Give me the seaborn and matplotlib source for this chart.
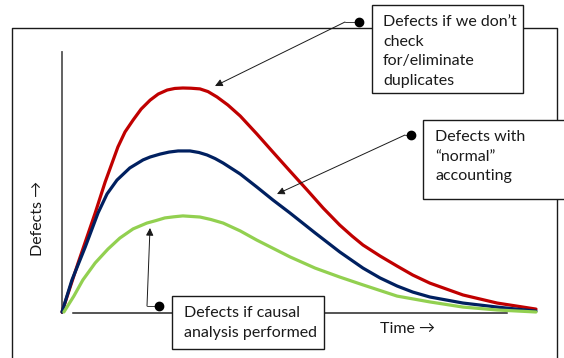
import numpy as np
import pandas as pd
import seaborn as sns
import matplotlib.pyplot as plt
from matplotlib.lines import Line2D
from matplotlib.patches import Rectangle

# ---------------- data (time 0..100, defects scaled so red peak = 100) ----------------
red_t = [0, 3.4, 7.0, 9.1, 11.8, 13.3, 15.0, 16.7, 18.6, 20.3, 22.2, 23.8, 25.5, 27.2,
         29.1, 30.8, 32.7, 35.0, 37.6, 41.1, 44.5, 48.1, 51.7, 55.1, 58.6, 61.2, 63.5,
         67.1, 70.7, 74.0, 77.6, 84.6, 91.8, 100]
red_d = [0, 21.9, 44.2, 58.0, 73.7, 80.4, 85.7, 90.6, 94.6, 97.3, 99.1, 99.8, 100, 99.9,
         99.6, 98.4, 96.0, 92.4, 87.5, 79.5, 71.4, 62.9, 54.5, 46.4, 38.8, 33.9, 29.9,
         25.0, 20.5, 16.5, 12.9, 7.6, 4.0, 1.3]

blue_t = [0, 2.1, 4.9, 7.6, 9.5, 11.6, 14.3, 17.1, 18.6, 20.7, 22.6, 24.5, 27.0, 28.9,
          30.6, 32.3, 34.0, 37.6, 41.1, 44.5, 48.1, 53.4, 58.6, 63.5, 67.1, 70.7, 74.0,
          77.6, 84.6, 91.8, 100]
blue_d = [0, 14.3, 29.0, 44.2, 52.7, 58.9, 64.3, 67.9, 69.2, 70.5, 71.4, 71.9, 71.9, 71.2,
          70.1, 68.5, 66.5, 61.6, 55.8, 50.0, 44.2, 35.3, 26.8, 19.6, 15.2, 11.6, 8.9,
          6.7, 4.0, 2.2, 0.4]

green_t = [0.4, 2.5, 4.4, 7.0, 9.7, 12.2, 15.0, 17.9, 19.8, 21.7, 23.6, 25.5, 29.1, 31.4,
           34.0, 37.6, 41.1, 48.1, 53.4, 58.6, 63.5, 70.7, 77.6, 84.6, 91.8, 100]
green_d = [0, 7.1, 14.3, 21.9, 28.1, 33.0, 37.1, 39.7, 40.8, 42.0, 42.5, 42.9, 42.4, 41.3,
           39.7, 36.2, 32.1, 24.6, 19.6, 15.6, 12.1, 7.1, 4.5, 2.2, 0.9, 0]

series_names = ["Defects if we don\u2019t check for/eliminate duplicates",
                "Defects with \u201cnormal\u201d accounting",
                "Defects if causal analysis performed"]
box_texts = ["Defects if we don\u2019t\ncheck\nfor/eliminate\nduplicates",
             "Defects with\n\u201cnormal\u201d\naccounting",
             "Defects if causal\nanalysis performed"]
x_label = "Time \u2192"
y_label = "Defects \u2192"
colors = ["#C00000", "#002060", "#92D050"]

# ---------------- figure ----------------
sns.set_theme(style="white")
plt.rcParams["font.family"] = ["Lato", "DejaVu Sans"]

W, H = 564, 358
fig = plt.figure(figsize=(W / 100, H / 100), dpi=100)
ax = fig.add_axes([0, 0, 1, 1])
# data <-> pixel mapping: t=0 at x=62px, t=100 at x=536px; d=0 at y=312px, d=100 at y=88px
sx, sy = 4.74, 2.24
ax.set_xlim(-62 / sx, (W - 62) / sx)
ax.set_ylim((312 - H) / sy, 312 / sy)
ax.set_xticks([])
ax.set_yticks([])
ax.set_facecolor("white")


def P(px, py):
    return (px / W, 1 - py / H)


tr = ax.transAxes

# axis spines as the diagram axes
for s in ["top", "right"]:
    ax.spines[s].set_visible(False)
ax.spines["left"].set_position(("data", 0))
ax.spines["left"].set_bounds(-0.5, 116)
ax.spines["left"].set_color("#555555")
ax.spines["left"].set_linewidth(1.3)
ax.spines["bottom"].set_position(("data", -0.45))
ax.spines["bottom"].set_bounds(2.3, 93.9)
ax.spines["bottom"].set_color("#262626")
ax.spines["bottom"].set_linewidth(1.1)

# outer frame
frame_pts = [P(12, 360), P(12, 28), P(557, 28), P(557, 360)]
ax.add_line(Line2D([p[0] for p in frame_pts], [p[1] for p in frame_pts], transform=tr,
                   color="#1a1a1a", lw=1.0, clip_on=False, zorder=1))

# curves
df = pd.concat([
    pd.DataFrame({"t": red_t, "d": red_d, "s": series_names[0]}),
    pd.DataFrame({"t": blue_t, "d": blue_d, "s": series_names[1]}),
    pd.DataFrame({"t": green_t, "d": green_d, "s": series_names[2]}),
])
for name, c in zip(series_names, colors):
    sns.lineplot(data=df[df["s"] == name], x="t", y="d", color=c, lw=2.3, ax=ax,
                 estimator=None, sort=False, legend=False, zorder=3,
                 solid_joinstyle="round", solid_capstyle="round")
ax.set_xlabel("")
ax.set_ylabel("")

# callout boxes
boxes = [(372, 5, 523, 93), (423, 120, 575, 199), (172, 296, 324, 349)]
text_pos = [(383, 15), (435, 130), (184, 306)]
for (x0, y0, x1, y1), (tx, ty), txt in zip(boxes, text_pos, box_texts):
    ax.add_patch(Rectangle(P(x0, y1), (x1 - x0) / W, (y1 - y0) / H, transform=tr,
                           facecolor="white", edgecolor="#1a1a1a", lw=1.0, zorder=4,
                           clip_on=False))
    ax.text(*P(tx, ty), txt, transform=tr, ha="left", va="top", fontsize=11.5,
            linespacing=1.52, color="#1a1a1a", zorder=5)

# connectors: dot -> corner -> arrow tip
connectors = [((359, 22), (345, 22), (215, 86)),
              ((411, 135), (405, 135), (277, 194)),
              ((159, 306), (147, 306), (150, 228))]
for dot, corner, tip in connectors:
    ax.add_line(Line2D([P(*dot)[0], P(*corner)[0]], [P(*dot)[1], P(*corner)[1]],
                       transform=tr, color="#404040", lw=0.7, zorder=4))
    ax.annotate("", xy=P(*tip), xytext=P(*corner), xycoords=tr, textcoords=tr,
                arrowprops=dict(arrowstyle="-|>", color="#1a1a1a", lw=0.7,
                                mutation_scale=11, shrinkA=0, shrinkB=0), zorder=4)
    ax.plot(*P(*dot), transform=tr, marker="o", ms=6, color="black", zorder=5)

# axis labels
ax.text(*P(38, 218), y_label, transform=tr, rotation=90, ha="center", va="center",
        fontsize=11.5, color="#1a1a1a")
ax.text(*P(407, 329), x_label, transform=tr, ha="center", va="center",
        fontsize=11.5, color="#1a1a1a")

fig.savefig("out.png", dpi=100, facecolor="white")
